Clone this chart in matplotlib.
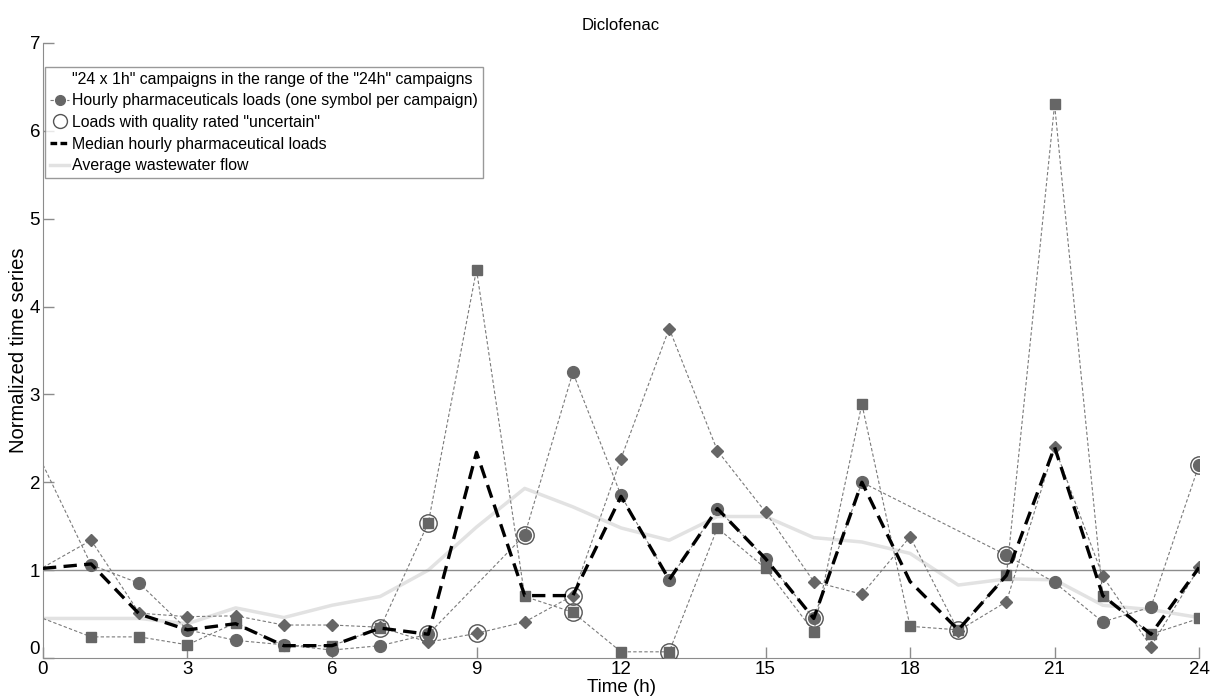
import matplotlib
matplotlib.use("Agg")
import matplotlib.pyplot as plt
import numpy as np
from matplotlib.lines import Line2D

plt.rcParams["font.family"] = ["Liberation Sans", "DejaVu Sans"]

hours = list(range(25))

# campagne "cercles" (nan = pas de mesure)
circle_loads = [2.20, 1.06, 0.85, 0.32, 0.20, 0.15, 0.09, 0.14, 0.27, np.nan, 1.40, 3.25,
                1.85, 0.89, 1.70, 1.13, 0.45, 2.00, np.nan, np.nan, 1.17, 0.86, 0.41, 0.58, 2.20]
square_loads = [0.45, 0.24, 0.24, 0.15, 0.40, 0.14, 0.14, 0.34, 1.54, 4.42, 0.70, 0.52,
                0.07, 0.07, 1.48, 1.02, 0.30, 2.89, 0.36, 0.32, 0.94, 6.30, 0.71, 0.27, 0.45]
diamond_loads = [1.03, 1.34, 0.51, 0.47, 0.48, 0.375, 0.375, 0.35, 0.18, 0.28, 0.41, 0.71,
                 2.27, 3.75, 2.36, 1.66, 0.87, 0.725, 1.38, 0.31, 0.64, 2.40, 0.93, 0.13, 1.03]

# heures dont la qualité est "incertaine"
circle_uncertain = [8, 10, 16, 20, 24]
square_uncertain = [7, 8, 11, 13, 19]
diamond_uncertain = [9, 11]

median_loads = [1.02, 1.07, 0.50, 0.32, 0.39, 0.14, 0.14, 0.34, 0.27, 2.34, 0.71, 0.71,
                1.84, 0.89, 1.70, 1.13, 0.45, 2.00, 0.87, 0.32, 0.94, 2.40, 0.71, 0.27, 1.03]
avg_flow = [0.45, 0.45, 0.45, 0.39, 0.57, 0.46, 0.60, 0.70, 1.00, 1.49, 1.93, 1.72,
            1.48, 1.34, 1.61, 1.61, 1.37, 1.32, 1.19, 0.83, 0.90, 0.89, 0.60, 0.55, 0.46]

x_ticks = [0, 3, 6, 9, 12, 15, 18, 21, 24]
y_ticks = [0, 1, 2, 3, 4, 5, 6, 7]

LINE_GREY = "#7a7a7a"
MARK_GREY = "#666666"

fig = plt.figure(figsize=(12.1, 6.99), dpi=100)
ax = fig.add_axes([0.0355, 0.0587, 0.9555, 0.8798])

ax.plot(hours, avg_flow, color="#e2e2e2", lw=2.5, zorder=1)
ax.axhline(1, color="#8c8c8c", lw=1.0, zorder=1.5)

series = [
    (circle_loads, "o", 8.5, circle_uncertain),
    (square_loads, "s", 7, square_uncertain),
    (diamond_loads, "D", 6, diamond_uncertain),
]
for values, marker, size, uncertain in series:
    h = np.array(hours)
    v = np.array(values)
    ok = ~np.isnan(v)
    ax.plot(h[ok], v[ok], color=LINE_GREY, lw=0.8, ls=(0, (3, 2)), zorder=2)
    # pas de symbole à 0h (reprise de 24h)
    ax.plot(h[ok & (h > 0)], v[ok & (h > 0)], ls="none", marker=marker, ms=size,
            mfc=MARK_GREY, mec=MARK_GREY, zorder=3)
    ax.plot(uncertain, [values[i] for i in uncertain], ls="none", marker="o", ms=12.5,
            mfc="none", mec="#555555", mew=1.0, zorder=3)

ax.plot(hours, median_loads, color="black", lw=2.4, ls=(0, (4, 2.2)), zorder=4)

ax.set_xlim(0, 24)
ax.set_ylim(0, 7)
ax.set_xticks(x_ticks)
ax.set_yticks(y_ticks)
ax.tick_params(direction="in", length=8, width=1, color="#8c8c8c", labelsize=13.5, pad=2)
for side in ["top", "right"]:
    ax.spines[side].set_visible(False)
for side in ["left", "bottom"]:
    ax.spines[side].set_color("#8c8c8c")
# le "0" de l'axe y remonte un peu, comme dans l'original
ax.get_yticklabels()[0].set_va("bottom")

ax.set_title("Diclofenac", fontsize=12, pad=9)
ax.set_xlabel("Time (h)", fontsize=13.5, labelpad=1)
ax.set_ylabel("Normalized time series", fontsize=14.5, labelpad=1)

handles = [
    Line2D([], [], color="none"),
    Line2D([], [], color=LINE_GREY, lw=0.8, ls=(0, (3, 2)), marker="o", ms=7,
           mfc=MARK_GREY, mec=MARK_GREY),
    Line2D([], [], ls="none", marker="o", ms=10, mfc="none", mec="#555555"),
    Line2D([], [], color="black", lw=2.4, ls=(0, (2, 1))),
    Line2D([], [], color="#e2e2e2", lw=2.5),
]
labels = [
    '"24 x 1h" campaigns in the range of the "24h" campaigns',
    "Hourly pharmaceuticals loads (one symbol per campaign)",
    'Loads with quality rated "uncertain"',
    "Median hourly pharmaceutical loads",
    "Average wastewater flow",
]
leg = ax.legend(handles, labels, loc="upper left", bbox_to_anchor=(0.002, 0.961),
                borderaxespad=0, fontsize=11.4, handlelength=1.2, handletextpad=0.2,
                labelspacing=0.42, borderpad=0.3, frameon=True, fancybox=False)
leg.get_frame().set_edgecolor("#808080")
leg.get_frame().set_linewidth(1.0)

fig.savefig("out.png", dpi=100)
